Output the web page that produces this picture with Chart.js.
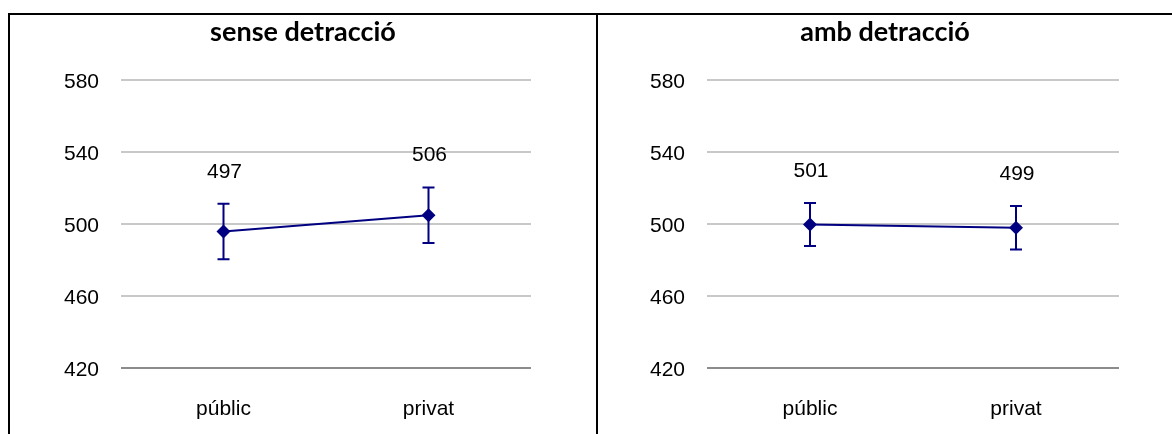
<!DOCTYPE html>
<html>
<head>
<meta charset="utf-8">
<script src="https://cdn.jsdelivr.net/npm/chart.js@4/dist/chart.umd.min.js"></script>
<style>
  body { margin: 0; background: #fff; }
  #marc { position: relative; width: 1172px; height: 434px; overflow: hidden; }
  #vora-sup { position: absolute; left: 8px; top: 13px; width: 1164px; height: 2px; background: #000; }
  #vora-esq { position: absolute; left: 8px; top: 13px; width: 2px; height: 421px; background: #000; }
  #divisio { position: absolute; left: 596px; top: 13px; width: 2px; height: 421px; background: #000; }
  #c1 { position: absolute; left: 10px; top: 15px; }
  #c2 { position: absolute; left: 598px; top: 15px; }
</style>
</head>
<body>
<div id="marc">
  <canvas id="c1" width="586" height="419"></canvas>
  <canvas id="c2" width="574" height="419"></canvas>
  <div id="vora-sup"></div>
  <div id="vora-esq"></div>
  <div id="divisio"></div>
</div>
<script>
// Dades
const categories = ["públic", "privat"];

const senseMitjana = [495.8, 504.9];
const senseError = [15.4, 15.4];
const senseEtiquetes = ["497", "506"];

const ambMitjana = [499.7, 497.9];
const ambError = [11.9, 12.1];
const ambEtiquetes = ["501", "499"];

const yMin = 420;
const yMax = 580;
const yPas = 40;

const BLAU = "#000080";
const FONT_TEXT = "'Liberation Sans', Arial, sans-serif";

// Barres d'error i etiquetes
const errorPlugin = {
  id: "barresError",
  afterLayout(chart) {
    // el títol es centra sobre tot el panell
    const t = chart.titleBlock;
    if (t) {
      t.left = 0;
      t.right = chart.width;
      t.width = chart.width;
    }
  },
  afterDatasetsDraw(chart, args, opts) {
    const ctx = chart.ctx;
    const y = chart.scales.y;
    const meta = chart.getDatasetMeta(0);
    ctx.save();
    ctx.strokeStyle = BLAU;
    ctx.lineWidth = 2;
    meta.data.forEach((pt, i) => {
      const m = chart.data.datasets[0].data[i];
      const e = opts.errors[i];
      const yTop = y.getPixelForValue(m + e);
      const yBot = y.getPixelForValue(m - e);
      const x = pt.x;
      ctx.beginPath();
      ctx.moveTo(x, yTop);
      ctx.lineTo(x, yBot);
      ctx.moveTo(x - 6, yTop);
      ctx.lineTo(x + 6, yTop);
      ctx.moveTo(x - 6, yBot);
      ctx.lineTo(x + 6, yBot);
      ctx.stroke();

      ctx.fillStyle = "#000";
      ctx.font = "21px " + FONT_TEXT;
      ctx.textAlign = "center";
      ctx.textBaseline = "middle";
      ctx.fillText(opts.labels[i], x + 1, yTop - 32);
    });
    ctx.restore();
  },
};

const makeChart = (canvasId, titol, mitjana, errors, etiquetes, yAmple, padDreta) => {
  const ctx = document.querySelector(canvasId).getContext("2d");
  return new Chart(ctx, {
    type: "line",
    data: {
      labels: categories,
      datasets: [
        {
          data: mitjana,
          borderColor: BLAU,
          borderWidth: 2,
          backgroundColor: BLAU,
          pointStyle: "rectRot",
          pointRadius: 7,
          pointBorderWidth: 0,
          pointBackgroundColor: BLAU,
          tension: 0,
        },
      ],
    },
    options: {
      responsive: false,
      animation: false,
      layout: { padding: { left: 0, right: padDreta, top: 0, bottom: 0 } },
      plugins: {
        legend: { display: false },
        tooltip: { enabled: false },
        title: {
          display: true,
          text: titol,
          color: "#000",
          font: { family: "Lato", weight: "bold", size: 27 },
          padding: { top: 1, bottom: 31.6 },
        },
        barresError: { errors: errors, labels: etiquetes },
      },
      scales: {
        x: {
          offset: true,
          grid: { display: false, drawTicks: false },
          border: { display: false },
          ticks: { color: "#000", font: { family: FONT_TEXT, size: 21 }, padding: 29 },
          afterFit: (s) => { s.height = 66; },
        },
        y: {
          min: yMin,
          max: yMax,
          border: { display: false },
          grid: {
            drawTicks: false,
            lineWidth: 2,
            color: (c) => (c.tick && c.tick.value === yMin ? "#8c8c8c" : "#c8c8c8"),
          },
          ticks: {
            stepSize: yPas,
            color: "#000",
            font: { family: FONT_TEXT, size: 21 },
            padding: 22,
            labelOffset: 2,
          },
          afterFit: (s) => { s.width = yAmple; },
        },
      },
    },
    plugins: [errorPlugin],
  });
};

makeChart("#c1", "sense detracció", senseMitjana, senseError, senseEtiquetes, 111, 65);
makeChart("#c2", "amb detracció", ambMitjana, ambError, ambEtiquetes, 109, 53);
</script>
</body>
</html>
